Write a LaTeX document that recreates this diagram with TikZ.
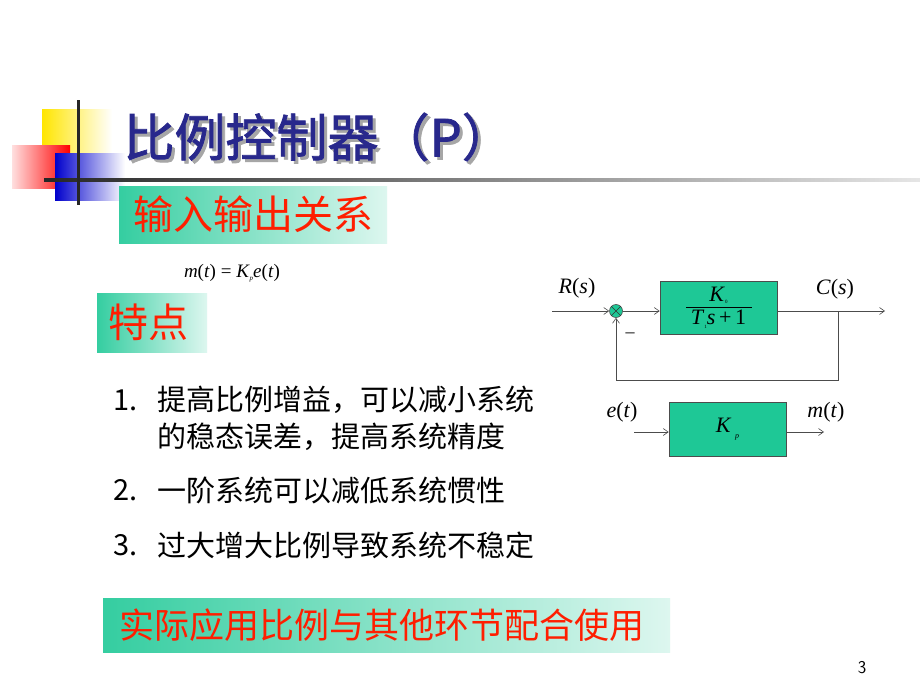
\documentclass[tikz,border=0pt]{standalone}
\usepackage{fontspec}
\setmainfont{Liberation Serif}
\newfontfamily\cjk{Noto Sans CJK SC}
\newfontfamily\cjkb{Noto Sans CJK SC}[FakeBold=1.5]
\usetikzlibrary{arrows.meta,shadings}
\definecolor{navy}{RGB}{40,40,140}
\definecolor{boxg}{RGB}{30,200,150}
\definecolor{redt}{RGB}{255,30,0}
\newcommand{\vi}[1]{\textit{#1}}
\tikzset{
 blk/.style={draw=black!70, fill=boxg, line width=0.6pt},
 sig/.style={draw=black!70, line width=0.6pt, -{Straight Barb[length=5pt,width=7pt]}},
 lbl/.style={font=\fontsize{22}{24}\selectfont},
 item/.style={anchor=west, font=\cjk\fontsize{29}{34}\selectfont},
}
\begin{document}
\begin{tikzpicture}[x=1pt,y=-1pt]
\useasboundingbox (0,0) rectangle (920,690);
\fill[white] (0,0) rectangle (920,690);
% decoration
\shade[left color=yellow!80!orange, right color=white] (42,110) rectangle (112,153);
\shade[left color=pink!50, right color=red] (12,145) rectangle (70,188);
\shade[left color=blue!80!black, right color=white] (55,153) rectangle (125,200);
\shade[left color=black!85, right color=black!10] (44,178.5) rectangle (920,181.5);
\fill[black!85] (76.5,100) rectangle (79.5,205);
% title
\node[anchor=west, text=black!35, font=\cjkb\fontsize{51}{54}\selectfont] at (123,140) {比例控制器（P）};
\node[anchor=west, text=navy, font=\cjkb\fontsize{51}{54}\selectfont] (title) at (120,137) {比例控制器（P）};
% green boxes
\shade[left color=boxg!90, right color=white!85!boxg] (119,186) rectangle (387,243);
\node[text=redt, font=\cjk\fontsize{40}{44}\selectfont] (io) at (253,214) {输入输出关系};
\node[font=\fontsize{19}{21}\selectfont] (eq) at (232,273) {\vi{m}(\vi{t}) = \vi{K}\raisebox{-0.3ex}{\scriptsize\vi{p}}\vi{e}(\vi{t})};
\shade[left color=boxg!90, right color=white!85!boxg] (97,293) rectangle (207,352);
\node[text=redt, font=\cjk\fontsize{40}{44}\selectfont] (td) at (148,322) {特点};
% list
\node[item] (n1) at (110,400) {1.};
\node[item] (t1) at (154,400) {提高比例增益，可以减小系统};
\node[item] (t1b) at (154,437) {的稳态误差，提高系统精度};
\node[item] (n2) at (110,490) {2.};
\node[item] (t2) at (154,490) {一阶系统可以减低系统惯性};
\node[item] (n3) at (110,545) {3.};
\node[item] (t3) at (154,545) {过大增大比例导致系统不稳定};
\shade[left color=boxg!90, right color=white!85!boxg] (103,598) rectangle (670,652);
\node[text=redt, font=\cjk\fontsize{35}{38}\selectfont] (app) at (382,625) {实际应用比例与其他环节配合使用};
\node[font=\sffamily\fontsize{18}{20}\selectfont] (pg) at (862,668) {3};
% block diagram
\coordinate (in) at (552,311);
\node[circle, draw=black!70, fill=boxg, minimum size=13pt, inner sep=0pt, line width=0.6pt] (sum) at (616,311) {};
\draw[black!80, line width=0.6pt] (sum.north west) -- (sum.south east) (sum.north east) -- (sum.south west);
\node[blk, minimum width=117pt, minimum height=53pt] (g) at (718.5,307.5) {};
\node[font=\fontsize{22}{24}\selectfont, inner sep=1pt] (gnum) at (718.5,295) {\vi{K}\raisebox{-0.2ex}{\tiny 0}};
\node[font=\fontsize{22}{24}\selectfont, inner sep=1pt] (gden) at (718.5,319) {\vi{T}\raisebox{-0.4ex}{\tiny 1}\vi{s}\,+\,1};
\draw[black, line width=0.8pt] (686,307) -- (752,307);
\coordinate (out) at (885,311);
\coordinate (br) at (838,311);
\coordinate (fb1) at (838,380);
\coordinate (fb2) at (616,380);
\draw[sig] (in) -- (sum);
\draw[sig] (sum) -- (g.west |- sum);
\draw[sig] (g.east |- out) -- (out);
\draw[sig] (br) -- (fb1) -- (fb2) -- (sum);
\node[lbl] (R) at (577,288) {\vi{R}(\vi{s})};
\node[lbl] (C) at (835,289) {\vi{C}(\vi{s})};
\node[font=\fontsize{18}{20}\selectfont] (minus) at (630,333) {\_};
\node[blk, minimum width=117pt, minimum height=54pt] (kp) at (727.5,429) {};
\node[font=\fontsize{22}{24}\selectfont] (kpt) at (727.5,429) {\vi{K}\,\raisebox{-0.6ex}{\footnotesize\vi{p}}};
\coordinate (ein) at (634,432);
\coordinate (mout) at (824,432);
\draw[sig] (ein) -- (kp.west |- ein);
\draw[sig] (kp.east |- mout) -- (mout);
\node[lbl] (e) at (622,412) {\vi{e}(\vi{t})};
\node[lbl] (m) at (826,412) {\vi{m}(\vi{t})};
\end{tikzpicture}
\end{document}
